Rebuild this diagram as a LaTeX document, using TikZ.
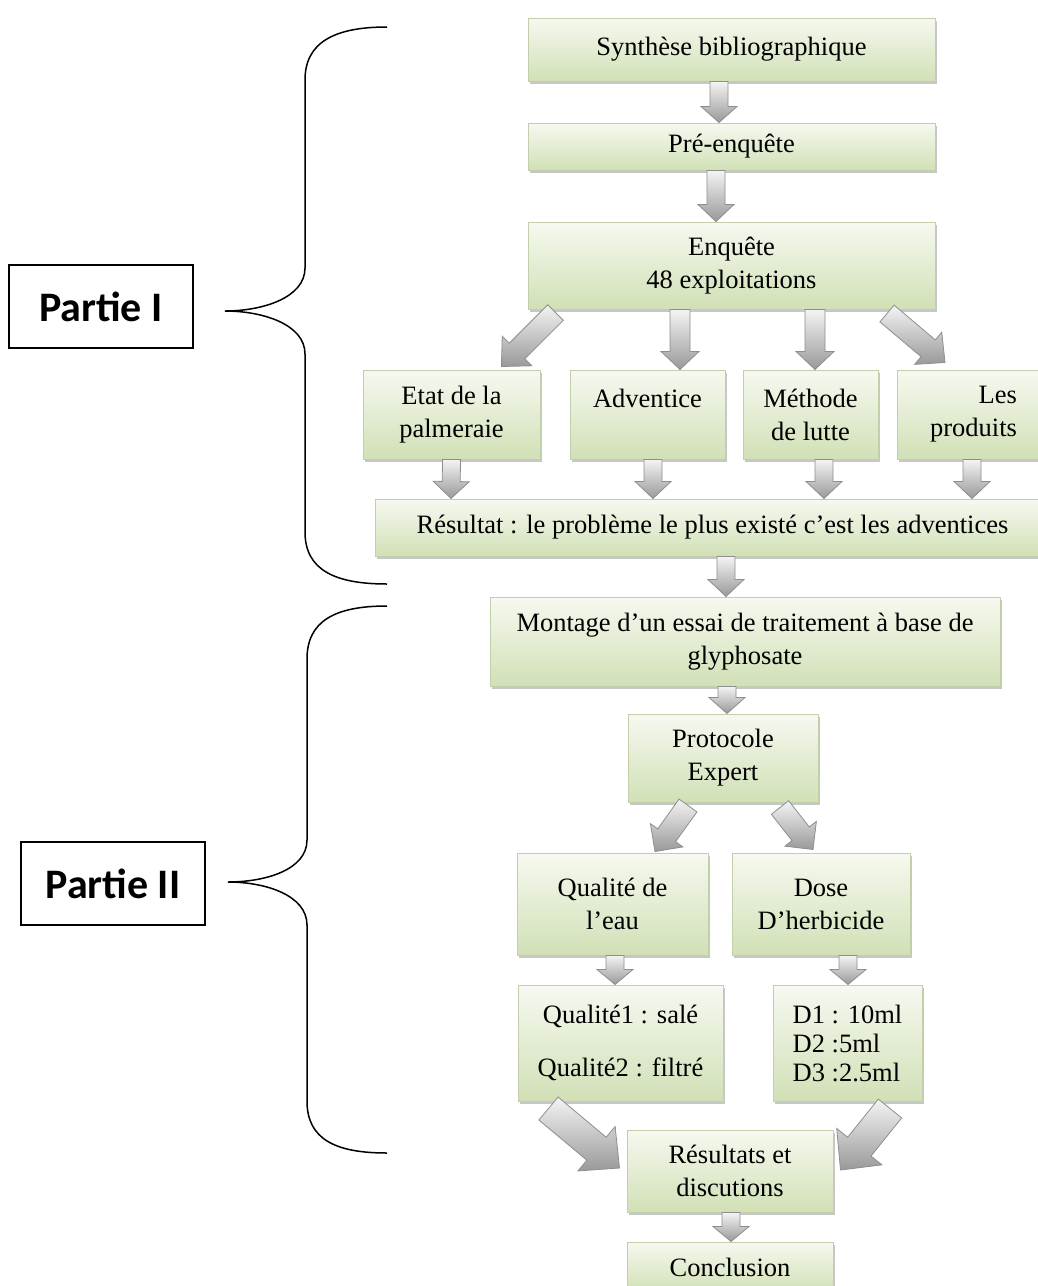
\documentclass[tikz,border=0pt]{standalone}
\usepackage{fontspec}
\setmainfont{Liberation Serif}
\newfontfamily\partfont{Carlito}
\usetikzlibrary{calc,shadows}
\definecolor{boxtop}{HTML}{F6F9F0}
\definecolor{boxbot}{HTML}{D1E0B6}
\definecolor{boxline}{HTML}{C2CFAA}
\definecolor{arrline}{HTML}{8E8E8E}
\definecolor{arrtop}{HTML}{F4F4F4}
\definecolor{arrbot}{HTML}{999999}
\tikzset{
 gbox/.style={rectangle, draw=boxline, line width=1pt, top color=boxtop, bottom color=boxbot,
   inner sep=2pt, align=center, font=\fontsize{26.5}{33}\selectfont,
   drop shadow={shadow xshift=2pt, shadow yshift=-3pt, fill=black, opacity=0.22}},
 partbox/.style={rectangle, draw=black, line width=1.2pt, font=\partfont\bfseries\fontsize{42}{48}\selectfont},
 bracepath/.style={draw=black, line width=1.5pt},
 blockarr/.style={draw=arrline, line width=0.8pt, top color=arrtop, bottom color=arrbot}
}
% #1 start, #2 tip, #3 half shaft, #4 half head, #5 head length
\newcommand\blockarrow[5]{%
 \path (#1) coordinate (ba-s) (#2) coordinate (ba-e);
 \path ($(ba-e)!#5!(ba-s)$) coordinate (ba-h);
 \draw[blockarr] ($(ba-s)!#3!90:(ba-e)$) -- ($(ba-h)!#3!-90:(ba-s)$) -- ($(ba-h)!#4!-90:(ba-s)$)
   -- (ba-e) -- ($(ba-h)!#4!90:(ba-s)$) -- ($(ba-h)!#3!90:(ba-s)$) -- ($(ba-s)!#3!-90:(ba-e)$) -- cycle;
}
\begin{document}
\begin{tikzpicture}[x=1pt,y=-1pt]
\useasboundingbox (0,0) rectangle (1037,1286);
% boxes
\node[gbox, minimum width=407pt, minimum height=63pt] (syn) at (731.5,49.5) {Synthèse bibliographique};
\node[gbox, minimum width=407pt, minimum height=47pt] (pre) at (731.5,146.5) {Pré-enquête};
\node[gbox, minimum width=407pt, minimum height=87pt] (enq) at (731.5,265.5) {Enquête\\48 exploitations};
\node[gbox, minimum width=177pt, minimum height=89pt] (etat) at (451.5,414.5) {Etat de la\\palmeraie};
\node[gbox, minimum width=155pt, minimum height=89pt] (adv) at (647.5,414.5) {Adventice\\\phantom{A}};
\node[gbox, minimum width=135pt, minimum height=89pt] (meth) at (810.5,414.5) {Méthode\\de lutte};
\node[gbox, minimum width=153pt, minimum height=89pt, align=right] (prod) at (973.5,414.5) {Les\\produits};
\node[gbox, minimum width=675pt, minimum height=57pt] (res) at (712.5,527.5) {Résultat : le problème le plus existé c’est les adventices};
\node[gbox, minimum width=510pt, minimum height=89pt] (mon) at (745,641.5) {Montage d’un essai de traitement à base de\\glyphosate};
\node[gbox, minimum width=190pt, minimum height=88pt] (pro) at (723,758) {Protocole\\Expert};
\node[gbox, minimum width=191pt, minimum height=102pt] (qual) at (612.5,904) {Qualité de\\l’eau};
\node[gbox, minimum width=178pt, minimum height=102pt] (dose) at (821,904) {Dose\\D’herbicide};
\node[gbox, minimum width=205pt, minimum height=116pt] (q12) at (620.5,1043) {Qualité1 : salé\\[20pt]Qualité2 : filtré};
\node[gbox, minimum width=149pt, minimum height=116pt, align=left, font=\fontsize{26.5}{29}\selectfont] (d123) at (847.5,1043) {D1 : 10ml\\D2 :5ml\\D3 :2.5ml};
\node[gbox, minimum width=206pt, minimum height=82pt] (rd) at (730,1171) {Résultats et\\discutions};
\node[gbox, minimum width=206pt, minimum height=50pt] (conc) at (730,1267) {Conclusion};
% part labels
\node[partbox, minimum width=184pt, minimum height=83pt] (p1) at (101,306.5) {Partie I\hspace{16pt}};
\node[partbox, minimum width=184pt, minimum height=83pt] (p2) at (113,883.5) {Partie II\hspace{6pt}};
% braces
\draw[bracepath] (387,27) .. controls (335,27) and (305,42) .. (305,80) -- (305,268)
  .. controls (305,298) and (262,311) .. (225,311)
  .. controls (262,311) and (305,324) .. (305,354) -- (305,532)
  .. controls (305,570) and (335,584) .. (387,584);
\draw[bracepath] (387,606) .. controls (335,606) and (307,621) .. (307,659) -- (307,840)
  .. controls (307,870) and (265,882) .. (228,882)
  .. controls (265,882) and (307,895) .. (307,925) -- (307,1101)
  .. controls (307,1139) and (335,1153) .. (387,1153);
% arrows
\blockarrow{$(syn.south)+(-12.5,0)$}{$(pre.north)+(-12.5,0)$}{9pt}{18pt}{16pt}
\blockarrow{$(pre.south)+(-15.5,0)$}{$(enq.north)+(-15.5,0)$}{9pt}{18pt}{17pt}
\blockarrow{$(enq.south west)+(28,3)$}{$(etat.north)+(50,-3)$}{11pt}{21pt}{22pt}
\blockarrow{$(enq.south)+(-51.5,0)$}{$(adv.north)+(32.5,0)$}{10pt}{19pt}{18pt}
\blockarrow{$(enq.south)+(83.5,0)$}{$(meth.north)+(4.5,0)$}{10pt}{19pt}{18pt}
\blockarrow{$(enq.south)+(155.5,4)$}{$(prod.north)+(-28.5,-7)$}{11pt}{21pt}{22pt}
\blockarrow{$(etat.south)+(0,0)$}{$(res.north)+(-261.5,0)$}{9pt}{18pt}{17pt}
\blockarrow{$(adv.south)+(5.5,0)$}{$(res.north)+(-59.5,0)$}{9pt}{18pt}{17pt}
\blockarrow{$(meth.south)+(13.5,0)$}{$(res.north)+(111.5,0)$}{9pt}{18pt}{17pt}
\blockarrow{$(prod.south)+(-1.5,0)$}{$(res.north)+(259.5,0)$}{9pt}{18pt}{17pt}
\blockarrow{$(res.south)+(13.5,0)$}{$(mon.north)+(-19,0)$}{9pt}{18pt}{17pt}
\blockarrow{$(mon.south)+(-18,0)$}{$(pro.north)+(4,0)$}{9pt}{18pt}{16pt}
\blockarrow{$(pro.south)+(-35,3)$}{$(qual.north)+(42.5,-1)$}{11pt}{20pt}{20pt}
\blockarrow{$(pro.south)+(57,5)$}{$(dose.north)+(-8,-3)$}{11pt}{20pt}{20pt}
\blockarrow{$(qual.south)+(2.5,0)$}{$(q12.north)+(-5.5,0)$}{9pt}{18pt}{15pt}
\blockarrow{$(dose.south)+(27,0)$}{$(d123.north)+(0.5,0)$}{9pt}{18pt}{15pt}
\blockarrow{$(q12.south)+(-72,7)$}{$(rd.west)+(-7,-3)$}{15pt}{29pt}{30pt}
\blockarrow{$(d123.south)+(42.5,7)$}{$(rd.east)+(7,-1)$}{15pt}{29pt}{30pt}
\blockarrow{$(rd.south)+(1,0)$}{$(conc.north)+(1,0)$}{9pt}{18pt}{15pt}
\end{tikzpicture}
\end{document}
